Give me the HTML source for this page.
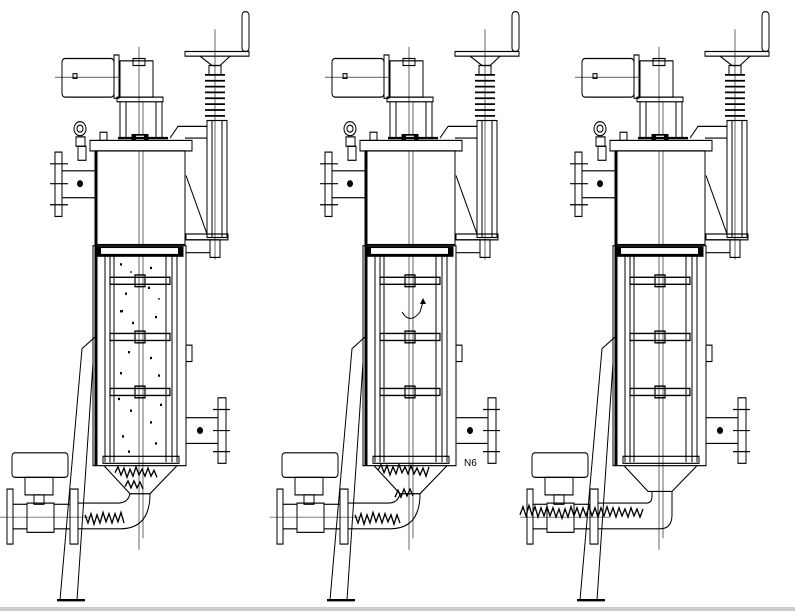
<!DOCTYPE html>
<html><head><style>html,body{margin:0;padding:0;background:#fff}svg{display:block}</style></head><body>
<svg width="795" height="612" viewBox="0 0 795 612" xmlns="http://www.w3.org/2000/svg" font-family="Liberation Sans, sans-serif">
<defs>
<g id="u" fill="none" stroke="#000" stroke-width="1">
  <rect x="62" y="50" width="52" height="33" rx="3"/>
  <line x1="55" y1="66" x2="118" y2="66" stroke-width="0.5"/>
  <rect x="73" y="63" width="4" height="4"/>
  <rect x="114" y="47" width="5" height="37"/>
  <rect x="120" y="52" width="33" height="31"/>
  <rect x="133" y="50" width="12" height="6"/>
  <rect x="117" y="83" width="46" height="4"/>
  <line x1="120" y1="87" x2="120" y2="118"/><line x1="126" y1="87" x2="126" y2="118"/>
  <line x1="156" y1="87" x2="156" y2="118"/><line x1="162" y1="87" x2="162" y2="118"/>
  <line x1="139" y1="40" x2="139" y2="470" stroke-width="0.6"/>
  <line x1="143" y1="87" x2="143" y2="460" stroke-width="0.6"/>
  <rect x="132" y="115" width="16" height="10" fill="#000"/>
  <rect x="136" y="116" width="8" height="8" fill="#fff" stroke="none"/>
  <circle cx="80" cy="110" r="6"/><circle cx="80" cy="110" r="3"/>
  <rect x="76" y="117" width="9" height="8"/><rect x="78" y="125" width="8" height="12"/>
  <rect x="100" y="113" width="7" height="7"/>
  <rect x="90" y="120" width="102" height="9" fill="#fff"/>
  <line x1="118" y1="118" x2="168" y2="118" stroke-width="2"/>
  <rect x="95" y="129" width="90" height="80"/>
  <line x1="96" y1="129" x2="96" y2="398" stroke-width="3"/>
  <rect x="55" y="130" width="7" height="55"/>
  <line x1="50" y1="140" x2="68" y2="140"/><line x1="50" y1="175" x2="68" y2="175"/><line x1="50" y1="157" x2="68" y2="157"/>
  <rect x="62" y="146" width="33" height="23"/>
  <circle cx="80" cy="157" r="2.5" fill="#000"/>
  <rect x="185" y="44" width="64" height="4"/>
  <rect x="242" y="10" width="7" height="34" rx="3"/>
  <line x1="215" y1="25" x2="215" y2="222" stroke-width="0.6"/>
  <path d="M200 48 L212 56 L220 56 L230 48"/>
  <rect x="209" y="56" width="12" height="8"/>
  <path d="M205 64 h20 M205 69 h20 M205 74 h20 M205 79 h20 M205 84 h20 M205 89 h20 M205 94 h20 M205 99 h20" stroke-width="1.5"/>
  <rect x="207" y="103" width="20" height="100"/>
  <line x1="212" y1="103" x2="212" y2="203"/><line x1="222" y1="103" x2="222" y2="203"/>
  <path d="M170 118 L178 108 L207 108 M185 118 L207 118"/>
  <path d="M186 150 L207 200"/>
  <rect x="186" y="200" width="42" height="5"/>
  <rect x="210" y="205" width="10" height="15"/>
  <path d="M186 205 L210 205 M186 216 L210 216"/>
  <rect x="93" y="210" width="93" height="188"/>
  <rect x="96" y="211" width="87" height="8" fill="#000"/>
  <rect x="101" y="212" width="77" height="5" fill="#fff" stroke="none"/>
  <line x1="105" y1="219" x2="105" y2="395"/><line x1="110" y1="219" x2="110" y2="395"/>
  <line x1="172" y1="219" x2="172" y2="395"/><line x1="177" y1="219" x2="177" y2="395"/>
  <line x1="114" y1="219" x2="114" y2="395"/><line x1="166" y1="219" x2="166" y2="395"/>
  <g stroke-width="1.2">
   <rect x="110" y="237" width="60" height="6"/><rect x="110" y="285" width="60" height="6"/><rect x="110" y="332" width="60" height="6"/>
   <rect x="135" y="235" width="10" height="10"/><rect x="135" y="283" width="10" height="10"/><rect x="135" y="330" width="10" height="10"/>
  </g>
  <rect x="103" y="390" width="76" height="6"/>
  <rect x="186" y="295" width="6" height="14"/>
  <rect x="186" y="357" width="32" height="22"/>
  <circle cx="200" cy="368" r="2.5" fill="#000"/>
  <rect x="218" y="340" width="8" height="56"/>
  <line x1="213" y1="350" x2="230" y2="350"/><line x1="213" y1="386" x2="230" y2="386"/><line x1="213" y1="368" x2="230" y2="368"/>
  <rect x="12" y="387" width="56" height="21" rx="3"/>
  <rect x="25" y="408" width="28" height="15"/>
  <rect x="34" y="423" width="10" height="8"/>
  <rect x="27" y="430" width="27" height="25"/>
  <rect x="7" y="418" width="6" height="47"/>
  <line x1="13" y1="431" x2="27" y2="431"/><line x1="13" y1="452" x2="27" y2="452"/>
  <line x1="54" y1="431" x2="70" y2="431"/><line x1="54" y1="452" x2="70" y2="452"/>
  <rect x="70" y="418" width="8" height="47"/>
  <line x1="0" y1="442" x2="90" y2="442" stroke-width="0.5"/>
  <path d="M95 288 L82 298 L60 513 M93 310 L77 513"/>
  <line x1="57" y1="513" x2="85" y2="513" stroke-width="2"/>
</g>
<g id="pipeA" fill="none" stroke="#000">
  <path d="M104 398 L130 422 L150 422 L177 398"/>
  <path d="M78 430 L118 430 Q128 430 130 422 M78 452 L120 452 Q150 452 150 422"/>
</g>
</defs>

<g transform="scale(1,1.17)">
<use href="#u" x="0"/>
<use href="#pipeA" x="0"/>
<use href="#u" x="270"/>
<use href="#pipeA" x="270"/>
<use href="#u" x="520"/>
<g fill="none" stroke="#000" transform="translate(520,0)">
  <path d="M104 398 L128 420 L152 420 L177 398"/>
  <path d="M78 430 L126 430 Q132 430 132 424 L132 420 M78 452 L140 452 Q152 452 152 440 L152 420"/>
</g>
<g fill="#000">
<rect x="120" y="225" width="2" height="2"/><rect x="130" y="232" width="2" height="1"/><rect x="125" y="250" width="2" height="2"/><rect x="150" y="228" width="2" height="2"/><rect x="158" y="255" width="2" height="1"/><rect x="120" y="265" width="3" height="2"/><rect x="155" y="270" width="2" height="2"/><rect x="128" y="300" width="2" height="2"/><rect x="150" y="305" width="2" height="2"/><rect x="120" y="318" width="2" height="2"/><rect x="158" y="320" width="2" height="2"/><rect x="130" y="350" width="2" height="2"/><rect x="150" y="360" width="2" height="2"/><rect x="122" y="372" width="2" height="2"/><rect x="155" y="378" width="2" height="2"/><rect x="128" y="385" width="2" height="2"/><rect x="160" y="345" width="2" height="2"/><rect x="118" y="340" width="2" height="2"/><rect x="148" y="245" width="2" height="2"/><rect x="132" y="275" width="2" height="2"/>
</g>
<g stroke="#000" stroke-width="1.3" fill="none">
<path d="M115 404 l3 -5 l3 7 l3 -6 l3 8 l3 -7 l3 6 l3 -8 l3 7 l3 -5 l3 6 l3 -7 l3 7 l3 -5 l3 6"/>
<path d="M125 416 l3 -5 l3 6 l3 -6 l3 6 l3 -5 l3 6"/>
<path d="M85 440 l3 7 l3 -8 l3 9 l3 -8 l3 7 l3 -9 l3 8 l3 -7 l3 8 l3 -8 l3 7 l3 -8 l3 9"/>
<path d="M378 402 l3 -5 l3 7 l3 -6 l3 8 l3 -7 l3 6 l3 -8 l3 7 l3 -5 l3 6 l3 -7 l3 7 l3 -5 l3 6 l3 -6 l3 7 l3 -8"/>
<path d="M395 425 l3 -6 l3 6 l3 -7 l3 6 l3 -6 l3 6"/>
<path d="M355 440 l3 7 l3 -8 l3 9 l3 -8 l3 7 l3 -9 l3 8 l3 -7 l3 8 l3 -8 l3 7 l3 -6 l3 8 l3 -8 l3 7"/>
<path d="M520 440 l3 -7 l3 8 l3 -9 l3 8 l3 -7 l3 9 l3 -8 l3 7 l3 -8 l3 8 l3 -7 l3 8 l3 -7 l3 8 l3 -8 l3 7 l3 -9 l3 8 l3 -7 l3 8 l3 -8 l3 7 l3 -8 l3 8 l3 -7 l3 8 l3 -8 l3 7 l3 -8 l3 8 l3 -7 l3 8 l3 -8 l3 7 l3 -6 l3 7 l3 -8 l3 7 l3 -6 l3 7 l3 -7"/>
</g>
</g>
<path d="M402 312 Q410 325 420 312 L423 302" fill="none" stroke="#000"/>
<path d="M420 304 l3 -6 l3 6 z" fill="#000"/>
<text x="464" y="466" font-size="10">N6</text>
<line x1="0" y1="609" x2="795" y2="609" stroke="#ccc" stroke-width="4"/>
</svg>
</body></html>
